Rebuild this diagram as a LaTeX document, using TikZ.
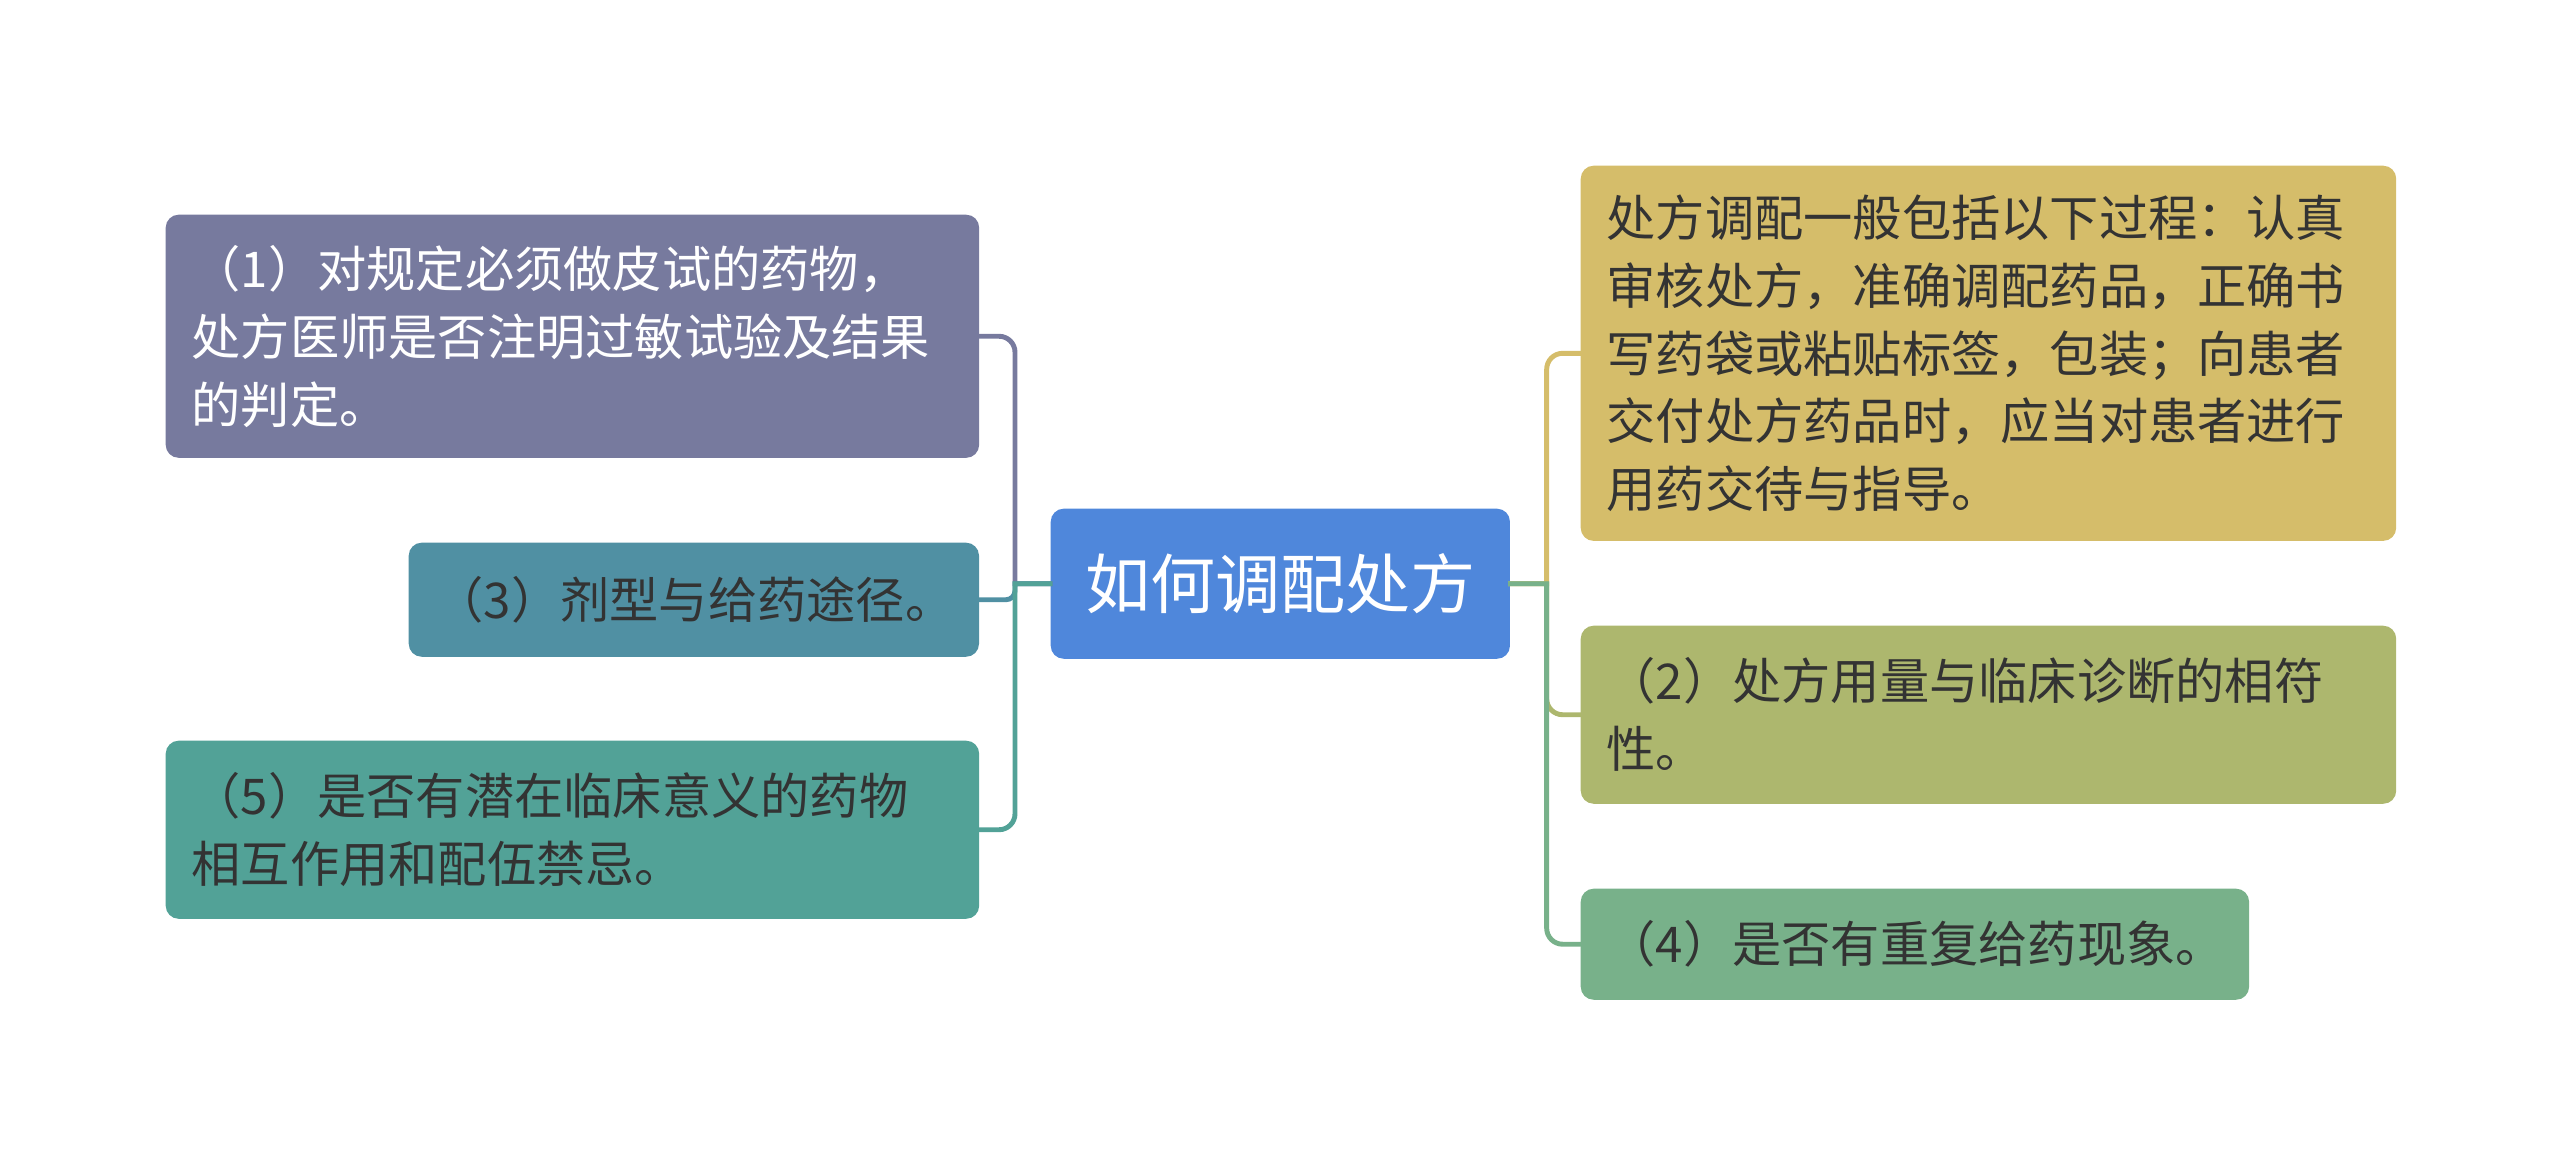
\documentclass[tikz,border=0pt]{standalone}
\usepackage{fontspec}
\usepackage{xcolor}
\usepackage{tikz}
\usetikzlibrary{positioning,calc}
\newfontfamily\cjk{Noto Sans CJK SC}

\definecolor{hubblue}{HTML}{4F87DB}
\definecolor{lilac}{HTML}{777A9E}
\definecolor{seablue}{HTML}{5090A3}
\definecolor{sea}{HTML}{52A297}
\definecolor{gold}{HTML}{D5BD6A}
\definecolor{olive}{HTML}{ADB76E}
\definecolor{leaf}{HTML}{78B18A}
\definecolor{ink}{HTML}{333333}

\begin{document}
\begin{tikzpicture}[x=0.01cm, y=-0.01cm, topic/.style = {rectangle, rounded corners=1.3mm, inner xsep=2.6mm, inner ysep=0pt, align=left, anchor=north west, text=ink, font=\cjk\fontsize{14}{19.3}\selectfont}, link/.style={line width=1.4pt, line cap=rect}, elbow/.style={rounded corners=1.6mm}]
\useasboundingbox (0,0) rectangle (2560,1165);

\node[topic, fill=hubblue, text=white, align=center, inner xsep=0pt, minimum width=4.59cm, minimum height=1.5cm, font=\cjk\fontsize{18.5}{22}\selectfont] (c) at (1050,508) {如何调配处方};

% left side
\node[topic, fill=lilac, text=white, text width=7.61cm, minimum height=2.43cm] (1) at (165,214) {（1）对规定必须做皮试的药物，\\处方医师是否注明过敏试验及结果\\的判定。};
\node[topic, fill=seablue, text width=5.18cm, minimum height=1.14cm] (3) at (408,542) {（3）剂型与给药途径。};
\node[topic, fill=sea, text width=7.61cm, minimum height=1.78cm] (5) at (165,740) {（5）是否有潜在临床意义的药物\\相互作用和配伍禁忌。};

% right side
\node[topic, fill=gold, text width=7.63cm, minimum height=3.75cm] (g) at (1580,165) {处方调配一般包括以下过程：认真\\审核处方，准确调配药品，正确书\\写药袋或粘贴标签，包装；向患者\\交付处方药品时，应当对患者进行\\用药交待与指导。};
\node[topic, fill=olive, text width=7.63cm, minimum height=1.78cm] (2) at (1580,625) {（2）处方用量与临床诊断的相符\\性。};
\node[topic, fill=leaf, text width=6.16cm, minimum height=1.11cm] (4) at (1580,888) {（4）是否有重复给药现象。};

\coordinate (lt) at ($(c.west)+(-35,0)$);
\coordinate (rt) at ($(c.east)+(36,0)$);

\draw[link, draw=lilac] (c.west) -- (lt) [elbow] |- (1.east);
\draw[link, draw=seablue] (c.west) -- (lt) [elbow, rounded corners=0.9mm] |- (3.east);
\draw[link, draw=sea] (c.west) -- (lt) [elbow] |- (5.east);

\draw[link, draw=gold] (c.east) -- (rt) [elbow] |- (g.west);
\draw[link, draw=olive] (c.east) -- (rt) [elbow] |- (2.west);
\draw[link, draw=leaf] (c.east) -- (rt) [elbow] |- (4.west);
\end{tikzpicture}
\end{document}
